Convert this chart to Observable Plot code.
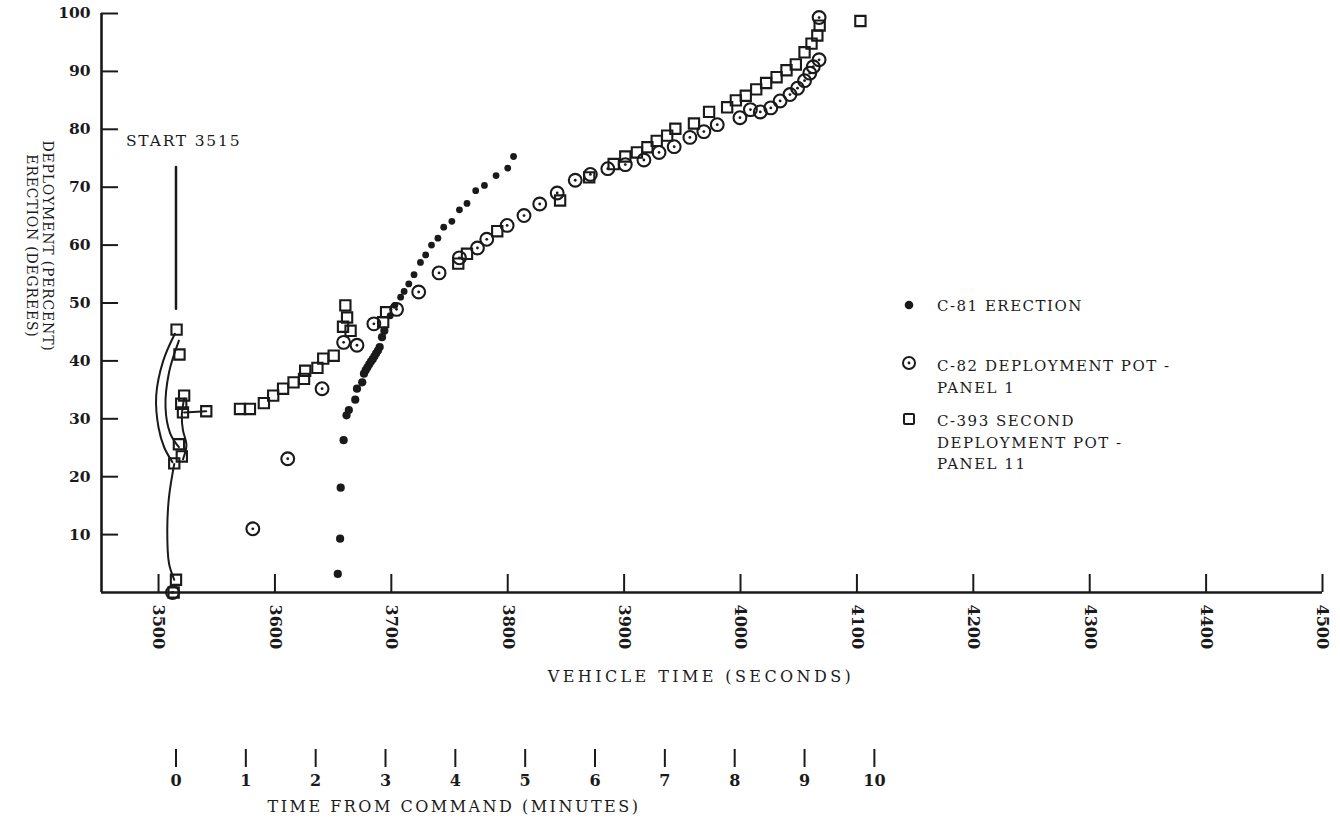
<!DOCTYPE html>
<html>
<head>
<meta charset="utf-8">
<script src="https://cdn.jsdelivr.net/npm/d3@7"></script>
<script src="https://cdn.jsdelivr.net/npm/@observablehq/plot@0.6"></script>
<style>
  html, body { margin: 0; padding: 0; background: #fff; }
  #wrap { position: relative; width: 1340px; height: 820px; overflow: hidden;
          font-family: "DejaVu Serif", "Liberation Serif", serif; color: #1c1c1c; }
  #wrap svg { position: absolute; left: 0; top: 0; }
  .txt { position: absolute; white-space: nowrap; font-size: 15px; letter-spacing: 1.5px; line-height: 21.5px; }
  .ctr { transform: translate(-50%, -50%); }
  .sym { position: absolute; }
</style>
</head>
<body>
<div id="wrap"></div>
<script>
// C-81 erection (degrees) against vehicle time (s)
const c81Erection = [
  [3654, 3.2], [3656, 9.3], [3656.5, 18.1], [3659, 26.3], [3661.5, 30.6], [3663.5, 31.5],
  [3669, 33.3], [3670.5, 35.2], [3675, 36.3], [3676.5, 37.8], [3678, 38.4], [3679.5, 38.9],
  [3681, 39.4], [3682.5, 39.9], [3684, 40.3], [3685.5, 40.8], [3687, 41.3], [3688.5, 41.8],
  [3690, 42.4], [3692, 44.1], [3694, 45.2], [3699, 47.8], [3703, 49.6], [3708, 51],
  [3711, 52], [3715, 53.3], [3719.5, 54.9], [3725, 57], [3729.5, 58.3], [3734.5, 60],
  [3740, 61.2], [3745, 63.1], [3752, 64.1], [3758.5, 66.1], [3765, 67.2], [3772.5, 69.4],
  [3780, 70.3], [3790, 72], [3800, 73.3], [3805, 75.3]
];

// C-82 deployment pot, panel 1 (percent)
const c82Panel1 = [
  [3512, 0], [3581, 11], [3611, 23.1], [3640.5, 35.2], [3659, 43.2], [3670.5, 42.7],
  [3685, 46.4], [3704.5, 48.9], [3723.5, 51.9], [3741, 55.2], [3758.5, 57.8], [3774, 59.5],
  [3782, 61], [3799.5, 63.4], [3814, 65.1], [3827.5, 67.1], [3842.5, 69], [3858, 71.2],
  [3871, 72.2], [3886, 73.2], [3901, 73.9], [3917, 74.7], [3930, 76], [3943, 77],
  [3956.5, 78.6], [3968.5, 79.6], [3980, 80.8], [3999.5, 82], [4008.5, 83.4], [4017, 83],
  [4026, 83.7], [4034, 84.9], [4042.5, 86], [4049, 87.1], [4055, 88.4], [4059.5, 89.7],
  [4062.5, 90.8], [4067.5, 92], [4067.5, 99.3]
];

// C-393 second deployment pot, panel 11 (percent)
const c393Panel11 = [
  [3513, 0], [3515, 2.2], [3513.5, 22.3], [3520, 23.5], [3517.5, 25.6], [3521, 31.1],
  [3519.5, 32.6], [3522, 34], [3518, 41.1], [3515.5, 45.4], [3541, 31.3], [3570, 31.7],
  [3578.5, 31.7], [3590.5, 32.7], [3598.5, 34], [3607, 35.2], [3616, 36.3], [3625, 36.9],
  [3626, 38.3], [3636.5, 38.8], [3641.5, 40.4], [3650.5, 40.9], [3658.5, 45.9], [3662, 47.5],
  [3660.5, 49.6], [3665, 45.2], [3693, 46.7], [3695.5, 48.4], [3757.5, 56.8], [3765, 58.5],
  [3791, 62.4], [3845, 67.7], [3870, 71.7], [3891, 74], [3901, 75.3], [3911, 76],
  [3920, 76.9], [3928, 78], [3937, 78.9], [3944, 80.1], [3960, 81], [3973, 83],
  [3988.5, 83.8], [3996, 85], [4004.5, 85.8], [4013.5, 86.9], [4022, 88], [4031, 89],
  [4039.5, 90.2], [4047.5, 91.2], [4055, 93.3], [4061, 94.8], [4066, 96.2], [4068, 97.9],
  [4103, 98.7]
];

// hand-drawn strokes linking the first readings after the start command
const outerArc = [[3514, 44.7], [3504, 40], [3498, 34], [3500, 28.5], [3505, 25], [3512, 22.5]];
const innerArc = [[3517.5, 43.5], [3509, 38], [3506, 32], [3510, 27.5], [3517.5, 25.1]];
const rightArc = [[3522, 33.5], [3520, 30.5], [3521, 28], [3524, 25.5], [3521, 23]];
const lowerStem = [[3513.5, 22.2], [3509, 16.5], [3507.5, 10.7], [3509, 5], [3513.5, 2.2]];
const tieLine = [[3522, 31.1], [3541, 31.3]];

// start-of-command marker
const startTime = 3515;
const startLabel = "START 3515";
const startLine = [[startTime, 49], [startTime, 73.5]];
const startText = [{t: 3472, v: 77.9, label: startLabel}];

// axes
const xDomain = [3451, 4500];
const xTicks = [3500, 3600, 3700, 3800, 3900, 4000, 4100, 4200, 4300, 4400, 4500];
const yTicks = [10, 20, 30, 40, 50, 60, 70, 80, 90, 100];
const minuteTicks = [0, 1, 2, 3, 4, 5, 6, 7, 8, 9, 10];

const ink = "#1a1a1a";
const X = d => d[0], Y = d => d[1];
const lineOpts = {x: X, y: Y, stroke: ink, strokeWidth: 2, curve: "catmull-rom"};

const chart = Plot.plot({
  width: 1340,
  height: 820,
  marginLeft: 101,
  marginRight: 18,
  marginTop: 13,
  marginBottom: 228,
  x: {domain: xDomain},
  y: {domain: [0, 100]},
  style: {fontFamily: "DejaVu Serif, serif", color: ink, background: "transparent", overflow: "visible"},
  marks: [
    // axis lines
    Plot.ruleY([0], {stroke: ink, strokeWidth: 2.6}),
    Plot.ruleX([xDomain[0]], {y1: 0, y2: 100, stroke: ink, strokeWidth: 2.6}),
    // inward ticks
    Plot.axisX({ticks: xTicks, anchor: "bottom", tickSize: 18, dy: -18, strokeWidth: 2, tickFormat: () => "", label: null}),
    Plot.axisY({ticks: yTicks, anchor: "left", tickSize: 17, dx: 17, strokeWidth: 2, tickFormat: () => "", label: null}),
    // tick labels
    Plot.axisX({ticks: xTicks, anchor: "bottom", tickSize: 0, tickPadding: 12, tickRotate: 90,
                fontSize: 16, fontWeight: "bold", tickFormat: d => String(d), label: null}),
    Plot.axisY({ticks: yTicks, anchor: "left", tickSize: 0, tickPadding: 11,
                fontSize: 15.5, fontWeight: "bold", tickFormat: d => String(d), label: null}),
    // time-from-command scale
    Plot.axisX({ticks: minuteTicks.map(m => startTime + 60 * m), anchor: "bottom", tickSize: 18, dy: 157,
                tickPadding: 7, strokeWidth: 2, fontSize: 16, fontWeight: "bold",
                tickFormat: d => String((d - startTime) / 60), label: null}),
    // start annotation
    Plot.line(startLine, {x: X, y: Y, stroke: ink, strokeWidth: 2.5}),
    Plot.text(startText, {x: "t", y: "v", text: "label", textAnchor: "start", fontSize: 15.5, fill: ink}),
    // hand-drawn connecting strokes
    Plot.line(outerArc, lineOpts),
    Plot.line(innerArc, lineOpts),
    Plot.line(rightArc, lineOpts),
    Plot.line(lowerStem, lineOpts),
    Plot.line(tieLine, {x: X, y: Y, stroke: ink, strokeWidth: 2}),
    // series
    Plot.dot(c82Panel1, {x: X, y: Y, r: 6.4, stroke: ink, strokeWidth: 2.1, fill: "none"}),
    Plot.dot(c82Panel1, {x: X, y: Y, r: 1.4, fill: ink}),
    Plot.dot(c393Panel11, {x: X, y: Y, symbol: "square", r: 5.8, stroke: ink, strokeWidth: 2.1, fill: "none"}),
    Plot.dot(c81Erection.filter(d => d[0] < 3695), {x: X, y: Y, r: 4.1, fill: ink}),
    Plot.dot(c81Erection.filter(d => d[0] >= 3695), {x: X, y: Y, r: 3.4, fill: ink})
  ]
});

const wrap = document.getElementById("wrap");
wrap.appendChild(chart);

// letter-spacing on the start label
chart.querySelectorAll("text").forEach(t => {
  if (t.textContent === startLabel) t.setAttribute("letter-spacing", "1.8");
});

function addText(html, left, top, cls) {
  const d = document.createElement("div");
  d.className = "txt" + (cls ? " " + cls : "");
  d.style.left = left + "px";
  d.style.top = top + "px";
  d.innerHTML = html;
  wrap.appendChild(d);
  return d;
}

// axis titles
const xt = addText("VEHICLE TIME (SECONDS)", 701, 677, "ctr");
xt.style.fontSize = "16px"; xt.style.letterSpacing = "3.4px";
const mt = addText("TIME FROM COMMAND (MINUTES)", 454, 807, "ctr");
mt.style.fontSize = "16px"; mt.style.letterSpacing = "2.5px";

const yt = document.createElement("div");
yt.className = "txt";
yt.style.cssText = "left:-80px;top:230px;width:240px;height:32px;text-align:center;line-height:16px;" +
  "transform:rotate(90deg);transform-origin:50% 50%;font-size:14px;letter-spacing:0.8px;";
yt.innerHTML = "DEPLOYMENT (PERCENT)<br>ERECTION (DEGREES)";
wrap.appendChild(yt);

// legend
function addSymbol(svg, cx, cy) {
  const s = document.createElementNS("http://www.w3.org/2000/svg", "svg");
  s.setAttribute("width", 24); s.setAttribute("height", 24);
  s.setAttribute("class", "sym");
  s.style.left = (cx - 12) + "px"; s.style.top = (cy - 12) + "px";
  s.innerHTML = svg;
  wrap.appendChild(s);
}
addSymbol(`<circle cx="12" cy="12" r="4.3" fill="${ink}"/>`, 909, 305);
addSymbol(`<circle cx="12" cy="12" r="6" fill="none" stroke="${ink}" stroke-width="2"/><circle cx="12" cy="12" r="1.4" fill="${ink}"/>`, 909, 363);
addSymbol(`<rect x="7" y="7" width="10" height="10" rx="1" fill="none" stroke="${ink}" stroke-width="2"/>`, 909, 419);

addText("C-81 ERECTION", 937, 296);
addText("C-82 DEPLOYMENT POT -<br>PANEL 1", 937, 356);
addText("C-393 SECOND<br>DEPLOYMENT POT -<br>PANEL 11", 937, 411);
</script>
</body>
</html>
